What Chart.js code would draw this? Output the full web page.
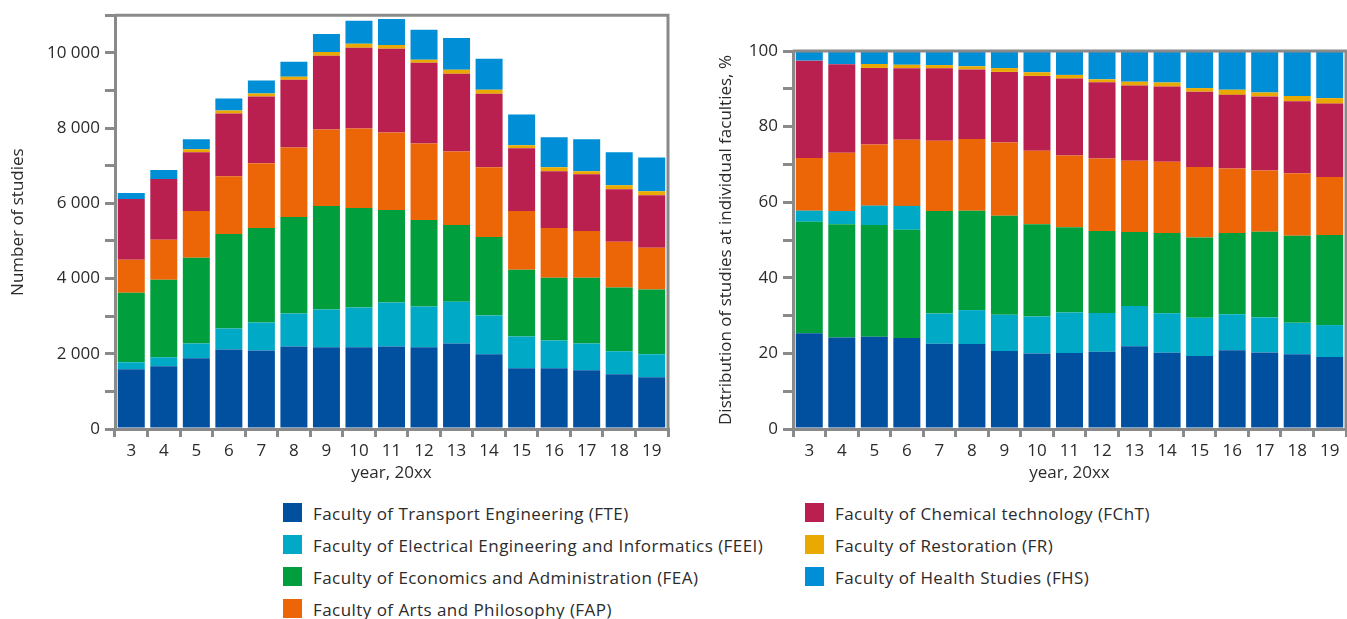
<!DOCTYPE html>
<html>
<head>
<meta charset="utf-8">
<script src="https://cdn.jsdelivr.net/npm/chart.js@4.4.0/dist/chart.umd.min.js"></script>
<style>
  body { margin: 0; background: #fff; font-family: "Open Sans", sans-serif; }
  #wrap { position: relative; width: 1347px; height: 619px; overflow: hidden; }
  .box { position: absolute; top: 0; height: 490px; }
  #leftBox  { left: 0;     width: 690px; }
  #rightBox { left: 690px; width: 657px; }
  .lg { position: absolute; font-size: 17px; line-height: 19px; color: #2b2b2b; white-space: nowrap; letter-spacing: 0.45px; }
  .lg i { position: absolute; left: 0; top: 0; width: 19px; height: 19px; }
  .lg b { position: absolute; left: 30px; top: 1px; font-weight: 400; }
</style>
</head>
<body>
<div id="wrap">
  <div class="box" id="leftBox"><canvas id="countChart"></canvas></div>
  <div class="box" id="rightBox"><canvas id="shareChart"></canvas></div>
  <div id="legend"></div>
</div>
<script>
// data
const years = ["3","4","5","6","7","8","9","10","11","12","13","14","15","16","17","18","19"];

const faculties = [
  "Faculty of Transport Engineering (FTE)",
  "Faculty of Electrical Engineering and Informatics (FEEI)",
  "Faculty of Economics and Administration (FEA)",
  "Faculty of Arts and Philosophy (FAP)",
  "Faculty of Chemical technology (FChT)",
  "Faculty of Restoration (FR)",
  "Faculty of Health Studies (FHS)"
];

const fte  = [1590,1665,1880,2115,2090,2195,2170,2170,2195,2170,2275,1985,1615,1615,1560,1455,1375];
const feei = [ 185, 240, 395, 555, 740, 875,1005,1060,1165,1085,1110,1030, 845, 740, 715, 610, 610];
const fea  = [1850,2065,2275,2515,2515,2565,2750,2645,2460,2300,2035,2090,1775,1665,1745,1695,1720];
const fap  = [ 875,1060,1245,1535,1720,1850,2035,2115,2065,2035,1960,1850,1560,1325,1245,1215,1110];
const fcht = [1615,1615,1560,1665,1775,1800,1960,2145,2220,2145,2065,1960,1665,1510,1510,1400,1400];
const fr   = [   0,   0,  80,  80,  80,  80, 105, 105, 105,  80, 105, 105,  80, 105,  80, 105, 105];
const fhs  = [ 160, 240, 265, 320, 345, 395, 475, 610, 690, 795, 845, 820, 820, 795, 845, 875, 900];

// in the % chart FEEI sits above FEA for these years
const feeiAboveFeaYears = ["3","4","5","6"];

const colors = ["#00509f","#00a9c5","#009e3d","#ec6608","#b9204f","#e9a900","#008fd6"];
const series = [fte, feei, fea, fap, fcht, fr, fhs];

// shares for the right chart
const totals = years.map((_, i) => series.reduce((s, arr) => s + arr[i], 0));
const pct = arr => arr.map((v, i) => v / totals[i] * 100);

const fmt = v => String(v).replace(/\B(?=(\d{3})+(?!\d))/g, " ");
const gray = "#8a8a8a";

Chart.defaults.font.family = '"Open Sans", sans-serif';
Chart.defaults.font.size = 16;
Chart.defaults.color = "#2b2b2b";
Chart.defaults.animation = false;

// top + right frame line
const frame = {
  id: "frame",
  afterDraw(chart) {
    const { ctx, chartArea: a } = chart;
    ctx.save();
    ctx.strokeStyle = gray;
    ctx.lineWidth = 3;
    ctx.beginPath();
    ctx.moveTo(a.left, a.top);
    ctx.lineTo(a.right, a.top);
    ctx.lineTo(a.right, a.bottom);
    ctx.stroke();
    ctx.restore();
  }
};

function axes(yMax, yStep, yLabel, yTitle, yWidth, titlePad) {
  return {
    x: {
      stacked: true,
      grid: { offset: true, drawOnChartArea: false, tickLength: 8, color: gray, lineWidth: 3 },
      border: { color: gray, width: 3 },
      ticks: { padding: 4, maxRotation: 0, autoSkip: false, font: { size: 17 } },
      title: { display: true, text: "year, 20xx", font: { size: 17 }, padding: { top: 0, bottom: 7 } },
      afterFit: s => { s.height = 61; }
    },
    y: {
      stacked: true,
      min: 0, max: yMax,
      grid: { drawOnChartArea: false, tickLength: 10, color: gray, lineWidth: 3 },
      border: { color: gray, width: 3 },
      ticks: { stepSize: yStep, padding: 5, callback: yLabel, font: { size: 17 } },
      title: { display: true, text: yTitle, font: { size: 17 }, padding: { top: titlePad, bottom: 0 } },
      afterFit: s => { s.width = yWidth; }
    }
  };
}

const barStyle = { barPercentage: 0.83, categoryPercentage: 1, borderWidth: 0 };

// left: number of studies
new Chart(document.getElementById("countChart"), {
  type: "bar",
  data: {
    labels: years,
    datasets: series.map((d, k) => ({ label: faculties[k], data: d, backgroundColor: colors[k], ...barStyle }))
  },
  options: {
    responsive: true, maintainAspectRatio: false,
    layout: { padding: { top: 13, right: 22, left: 0, bottom: 0 } },
    plugins: { legend: { display: false }, tooltip: { enabled: false } },
    scales: axes(11000, 1000, v => v % 2000 === 0 ? fmt(v) : "", "Number of studies", 115, 8)
  },
  plugins: [frame]
});

// right: distribution in %
const feeiPct = pct(feei);
const feeiLow  = feeiPct.map((v, i) => feeiAboveFeaYears.includes(years[i]) ? null : v);
const feeiHigh = feeiPct.map((v, i) => feeiAboveFeaYears.includes(years[i]) ? v : null);

new Chart(document.getElementById("shareChart"), {
  type: "bar",
  data: {
    labels: years,
    datasets: [
      { label: faculties[0], data: pct(fte),  backgroundColor: colors[0], ...barStyle },
      { label: faculties[1], data: feeiLow,   backgroundColor: colors[1], ...barStyle },
      { label: faculties[2], data: pct(fea),  backgroundColor: colors[2], ...barStyle },
      { label: faculties[1], data: feeiHigh,  backgroundColor: colors[1], ...barStyle },
      { label: faculties[3], data: pct(fap),  backgroundColor: colors[3], ...barStyle },
      { label: faculties[4], data: pct(fcht), backgroundColor: colors[4], ...barStyle },
      { label: faculties[5], data: pct(fr),   backgroundColor: colors[5], ...barStyle },
      { label: faculties[6], data: pct(fhs),  backgroundColor: colors[6], ...barStyle }
    ]
  },
  options: {
    responsive: true, maintainAspectRatio: false,
    layout: { padding: { top: 51, right: 1, left: 22, bottom: 0 } },
    plugins: { legend: { display: false }, tooltip: { enabled: false } },
    scales: axes(100, 10, v => v % 20 === 0 ? String(v) : "", "Distribution of studies at individual faculties, %", 81, 4)
  },
  plugins: [frame]
});

// legend, two columns
const legendEl = document.getElementById("legend");
const colX = [283, 805];
faculties.forEach((name, k) => {
  const col = k < 4 ? 0 : 1;
  const row = k < 4 ? k : k - 4;
  const div = document.createElement("div");
  div.className = "lg";
  div.style.left = colX[col] + "px";
  div.style.top = (503 + row * 32) + "px";
  div.innerHTML = `<i style="background:${colors[k]}"></i><b>${name}</b>`;
  legendEl.appendChild(div);
});
</script>
</body>
</html>
